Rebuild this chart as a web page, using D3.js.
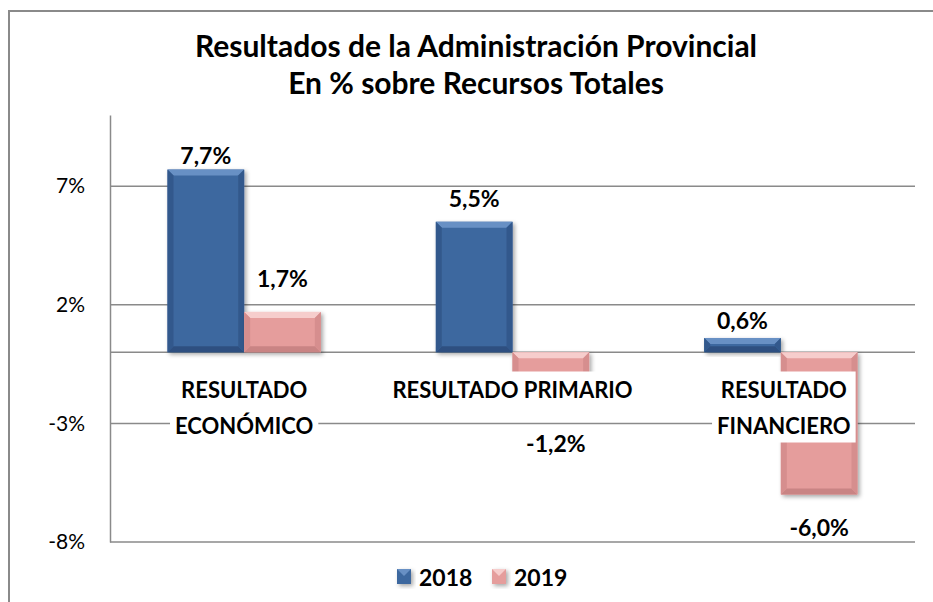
<!DOCTYPE html>
<html><head><meta charset="utf-8">
<script src="https://cdn.jsdelivr.net/npm/d3@7"></script>
<style>body{margin:0;background:#fff;overflow:hidden}</style>
</head><body>
<svg id="c" width="933" height="602"></svg>
<script>
const categories = [["RESULTADO","ECONÓMICO"],["RESULTADO PRIMARIO"],["RESULTADO","FINANCIERO"]];
const seriesNames = ["2018","2019"];
const values2018 = [7.7, 5.5, 0.6];
const values2019 = [1.7, -1.2, -6.0];
const yTicks = [7, 2, -3, -8];
const yDomain = [-8, 10];
const titleLines = ["Resultados de la Administración Provincial","En % sobre Recursos Totales"];

const FONT = "Lato, 'Open Sans', sans-serif";
const svg = d3.select("#c");
const W = 933, H = 602;
const plot = {left:110, right:915, top:115, bottom:542};

// outer frame (top/left only visible)
svg.append("rect").attr("x",9).attr("y",11).attr("width",W+20).attr("height",H+20)
  .attr("fill","#fff").attr("stroke","#8a8a8a").attr("stroke-width",2);

const y = d3.scaleLinear().domain(yDomain).range([plot.bottom, plot.top]);
const x0 = d3.scaleBand().domain(d3.range(categories.length)).range([plot.left, plot.right]).padding(0);
const x1 = d3.scaleBand().domain(seriesNames).range([0, x0.bandwidth()]).paddingInner(0).paddingOuter(0.75);

// defs
const defs = svg.append("defs");
const f = defs.append("filter").attr("id","sh").attr("x","-20%").attr("y","-20%").attr("width","150%").attr("height","150%");
f.append("feDropShadow").attr("dx",2).attr("dy",2).attr("stdDeviation",2.2).attr("flood-color","#000").attr("flood-opacity",0.35);

const palette = {
  "2018": {main:"#3C679F", top:"#6890C4", side:"#33598C", bottom:"#2D5080"},
  "2019": {main:"#E59D9C", top:"#F6CDCC", side:"#D68E8E", bottom:"#C98484"}
};

// gridlines + axis
const grid = svg.append("g");
yTicks.concat([0]).forEach(t => {
  grid.append("line").attr("x1",plot.left).attr("x2",plot.right).attr("y1",y(t)).attr("y2",y(t))
    .attr("stroke","#8a8a8a").attr("stroke-width",1.5);
});
const yAxis = d3.axisLeft(y).tickValues(yTicks).tickSize(0).tickPadding(25).tickFormat(d => d + "%");
const ya = svg.append("g").attr("transform",`translate(${plot.left},0)`).call(yAxis);
ya.select(".domain").attr("stroke","#8a8a8a").attr("stroke-width",1.5);
ya.selectAll("text").attr("font-family",FONT).attr("font-size",21).attr("fill","#000");

// bars
const data = [];
categories.forEach((c,i) => {
  data.push({cat:i, s:"2018", v:values2018[i]});
  data.push({cat:i, s:"2019", v:values2019[i]});
});
const bars = svg.append("g");
data.forEach(d => {
  const bx = x0(d.cat) + x1(d.s), bw = x1.bandwidth();
  const by = Math.min(y(d.v), y(0)), bh = Math.abs(y(d.v) - y(0));
  const p = palette[d.s];
  const g = bars.append("g").attr("filter","url(#sh)");
  g.append("rect").attr("x",bx).attr("y",by).attr("width",bw).attr("height",bh).attr("fill",p.main);
  const b = Math.min(6, bh/2, bw/2);
  const x2 = bx+bw, y2 = by+bh;
  g.append("polygon").attr("points",`${bx},${by} ${x2},${by} ${x2-b},${by+b} ${bx+b},${by+b}`).attr("fill",p.top);
  g.append("polygon").attr("points",`${bx},${y2} ${x2},${y2} ${x2-b},${y2-b} ${bx+b},${y2-b}`).attr("fill",p.bottom);
  g.append("polygon").attr("points",`${bx},${by} ${bx+b},${by+b} ${bx+b},${y2-b} ${bx},${y2}`).attr("fill",p.side);
  g.append("polygon").attr("points",`${x2},${by} ${x2-b},${by+b} ${x2-b},${y2-b} ${x2},${y2}`).attr("fill",p.side);
});

// category labels with white backgrounds
const catY = [389, 425];
categories.forEach((lines,i) => {
  const cx = x0(i) + x0.bandwidth()/2 + (i===2 ? 3 : 0);
  const g = svg.append("g");
  const bg = g.append("rect").attr("fill","#fff");
  const texts = lines.map((l,k) => g.append("text").attr("x",cx).attr("y",catY[k])
      .attr("text-anchor","middle").attr("dominant-baseline","central")
      .attr("font-family",FONT).attr("font-weight","bold").attr("font-size",22).attr("fill","#000").text(l));
  const bb = g.node().getBBox();
  bg.attr("x",bb.x-5).attr("y",bb.y-4).attr("width",bb.width+10).attr("height",bb.height+8);
});

// data labels
const fmt = v => v.toFixed(1).replace(".", ",") + "%";
const labelNudge = {"0-2018":-15,"0-2019":-34,"1-2018":-24,"1-2019":62,"2-2018":-18,"2-2019":32};
data.forEach(d => {
  const bx = x0(d.cat) + x1(d.s) + x1.bandwidth()/2;
  const edge = y(d.v);
  svg.append("text").attr("x",bx + (d.cat===1 && d.s==="2019" ? 5 : 0)).attr("y",edge + labelNudge[d.cat+"-"+d.s])
    .attr("text-anchor","middle").attr("dominant-baseline","central")
    .attr("font-family",FONT).attr("font-weight","bold").attr("font-size",23).attr("fill","#000").text(fmt(d.v));
});

// title
titleLines.forEach((t,k) => {
  svg.append("text").attr("x",476).attr("y",45 + k*37).attr("text-anchor","middle").attr("dominant-baseline","central")
    .attr("font-family",FONT).attr("font-weight","bold").attr("font-size",30).attr("fill","#000").text(t);
});

// legend
const legX = [397, 492];
seriesNames.forEach((s,i) => {
  const p = palette[s];
  const g = svg.append("g").attr("filter","url(#sh)");
  g.append("rect").attr("x",legX[i]).attr("y",569).attr("width",14).attr("height",15).attr("fill",p.main);
  g.append("polygon").attr("points",`${legX[i]},569 ${legX[i]+14},569 ${legX[i]+7},576`).attr("fill",p.top);
  svg.append("text").attr("x",legX[i]+22).attr("y",577).attr("dominant-baseline","central")
    .attr("font-family",FONT).attr("font-weight","bold").attr("font-size",23).attr("fill","#000").text(s);
});
</script>
</body></html>
